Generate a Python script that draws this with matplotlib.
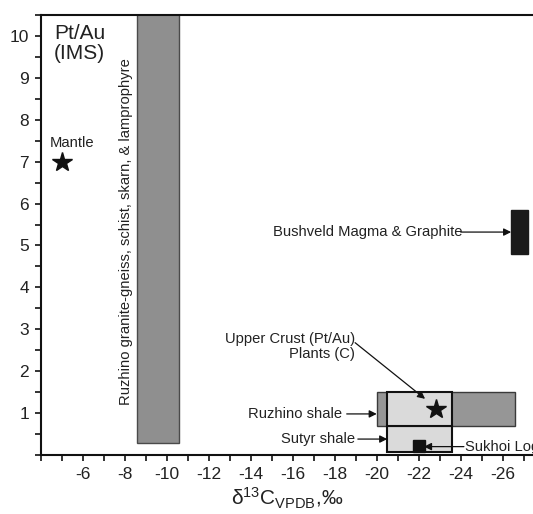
import numpy as np
import matplotlib
matplotlib.use('Agg')
import matplotlib.pyplot as plt
from matplotlib.patches import Rectangle
from matplotlib.ticker import MultipleLocator, FixedLocator

plt.rcParams['font.family'] = ['Liberation Sans', 'DejaVu Sans']
plt.rcParams['mathtext.fontset'] = 'custom'
plt.rcParams['mathtext.rm'] = 'Liberation Sans'
plt.rcParams['mathtext.it'] = 'Liberation Sans:italic'

# boxes: (x0, x1, y0, y1)
granite_x = (-8.6, -10.6)
granite_y = (0.28, 11.0)
bushveld_x = (-26.4, -27.2)
bushveld_y = (4.8, 5.85)
ruzhino_shale_x = (-20.0, -26.6)
ruzhino_shale_y = (0.68, 1.5)
sutyr_x = (-20.5, -23.6)
sutyr_y = (0.08, 0.68)
crust_x = (-20.5, -23.6)
crust_y = (0.68, 1.5)

# points
mantle = (-5.0, 7.0)
upper_crust = (-22.8, 1.1)
sukhoi_log = (-22.0, 0.22)

xticks_labeled = [-6, -8, -10, -12, -14, -16, -18, -20, -22, -24, -26]
yticks_labeled = [1, 2, 3, 4, 5, 6, 7, 8, 9, 10]

fig = plt.figure(figsize=(5.33, 5.14), dpi=100)
ax = fig.add_axes([0.0764, 0.1148, 0.9236, 0.856])
ax.set_xlim(-4, -27.44)
ax.set_ylim(0, 10.5)


def box(xs, ys, fc, ec, lw=1.0, z=2):
    ax.add_patch(Rectangle((xs[0], ys[0]), xs[1] - xs[0], ys[1] - ys[0],
                           facecolor=fc, edgecolor=ec, linewidth=lw, zorder=z))


box(granite_x, granite_y, '#8f8f8f', '#4a4a4a', 1.0)
box(bushveld_x, bushveld_y, '#1a1a1a', '#1a1a1a', 1.0)
box(ruzhino_shale_x, ruzhino_shale_y, '#969696', '#3a3a3a', 1.0, 2)
box(sutyr_x, sutyr_y, '#dadada', '#111111', 1.5, 3)
box(crust_x, crust_y, '#dadada', '#111111', 1.5, 3)

ax.plot(*mantle, marker='*', color='#111111', markersize=15, zorder=5)
ax.plot(*upper_crust, marker='*', color='#111111', markersize=15, zorder=5)
ax.plot(*sukhoi_log, marker='s', color='#111111', markersize=8, zorder=5)

fs = 10.6
ax.text(-4.63, 10.28, 'Pt/Au\n(IMS)', fontsize=15, ha='left', va='top',
        color='#222222', linespacing=1.05)
ax.text(-5.49, 7.44, 'Mantle', fontsize=fs, ha='center', va='center', color='#222222')
ax.text(-8.06, 5.34, 'Ruzhino granite-gneiss, schist, skarn, & lamprophyre',
        fontsize=fs, rotation=90, ha='center', va='center', color='#222222')

ax.text(-15.04, 5.32, 'Bushveld Magma & Graphite', fontsize=fs, ha='left',
        va='center', color='#222222')
ax.text(-18.97, 2.59, 'Upper Crust (Pt/Au)\nPlants (C)', fontsize=fs, ha='right',
        va='center', multialignment='right', color='#222222', linespacing=1.1)
ax.text(-18.33, 0.98, 'Ruzhino shale', fontsize=fs, ha='right', va='center',
        color='#222222')
ax.text(-18.97, 0.38, 'Sutyr shale', fontsize=fs, ha='right', va='center',
        color='#222222')
ax.text(-24.2, 0.2, 'Sukhoi Log', fontsize=fs, ha='left', va='center',
        color='#222222', clip_on=False)

arrows = [
    ((-24.0, 5.32), (-26.4, 5.32)),
    ((-18.97, 2.68), (-22.3, 1.34)),
    ((-18.57, 0.98), (-20.0, 0.98)),
    ((-19.1, 0.38), (-20.5, 0.38)),
    ((-24.15, 0.2), (-22.25, 0.2)),
]
for start, end in arrows:
    ax.annotate('', xy=end, xytext=start,
                arrowprops=dict(arrowstyle='-|>', color='#111111', lw=0.9,
                                mutation_scale=11, shrinkA=0, shrinkB=0),
                zorder=6)

ax.xaxis.set_major_locator(FixedLocator(xticks_labeled))
ax.xaxis.set_minor_locator(MultipleLocator(1))
ax.yaxis.set_major_locator(FixedLocator(yticks_labeled))
ax.yaxis.set_minor_locator(MultipleLocator(0.5))
ax.tick_params(which='both', direction='out', length=4.5, width=1.2, color='#111111',
               labelsize=12.5, labelcolor='#222222')
ax.tick_params(axis='x', pad=4)
ax.tick_params(axis='y', pad=4)
ax.set_xticklabels([str(v) for v in xticks_labeled])

for s in ['left', 'bottom', 'top']:
    ax.spines[s].set_linewidth(1.5)
    ax.spines[s].set_color('#111111')
ax.spines['right'].set_visible(False)

ax.set_xlabel('δ$^{13}$C$_{\\mathrm{VPDB}}$,‰', fontsize=15, color='#222222',
              labelpad=3)

fig.savefig('out.png', dpi=100)
